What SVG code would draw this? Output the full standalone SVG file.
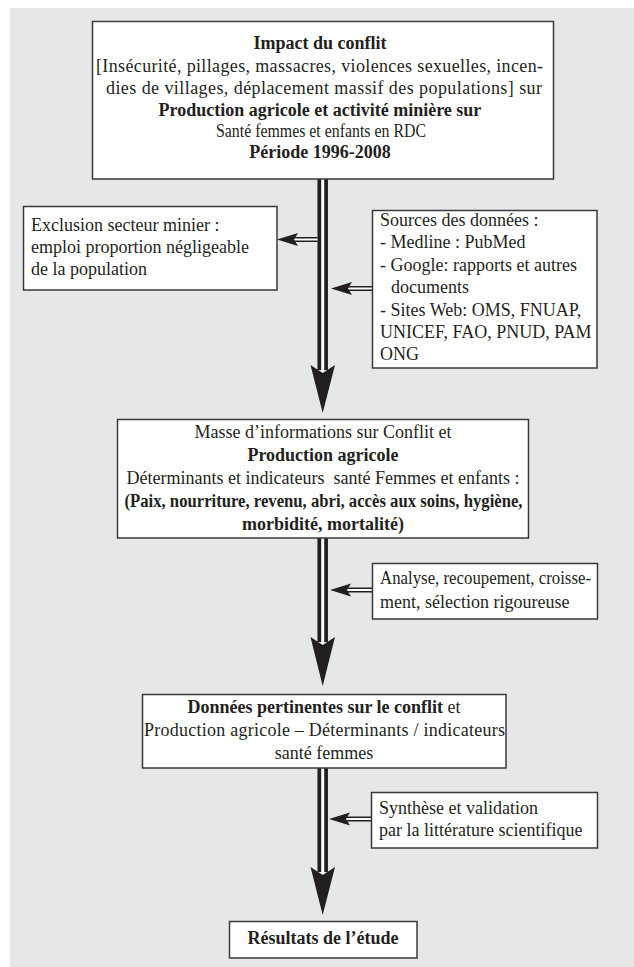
<svg xmlns="http://www.w3.org/2000/svg" width="634" height="967" viewBox="0 0 634 967">
<style>
.bg{fill:#e6e7e9}
.box{fill:#fff;stroke:#3a3a3a;stroke-width:1.5}
text{font-family:"Liberation Serif","Times New Roman",serif;font-size:18px;fill:#231f20}
.c{text-anchor:middle}
.b{font-weight:bold}
.shaftO{stroke:#231f20;stroke-width:10.5;fill:none}
.shaftI{stroke:#fff;stroke-width:3;fill:none}
.sO{stroke:#231f20;stroke-width:5;fill:none}
.sI{stroke:#fff;stroke-width:2;fill:none}
.head{fill:#231f20}
</style>
<rect class="bg" x="10" y="8" width="624" height="959"/>
<g id="connectors">
  <path class="shaftO" d="M322.7,179 V370 M322.7,538 V642 M322.7,768 V872"/>
  <path class="shaftI" d="M322.7,179 V372 M322.7,538 V644 M322.7,768 V874"/>
  <path class="head" d="M310.5,365 L322.7,373 L335,365 L322.7,413 Z"/>
  <path class="head" d="M310.5,637 L322.7,645 L335,637 L322.7,686 Z"/>
  <path class="head" d="M310.5,867 L322.7,875 L335,867 L322.7,915 Z"/>
  <path class="sO" d="M317.5,239.5 H292"/>
  <path class="sI" d="M317.5,239.5 H292"/>
  <path class="head" d="M277,239.5 L298,233 L294,239.5 L298,246 Z"/>
  <path class="sO" d="M372,288.5 H347"/>
  <path class="sI" d="M372,288.5 H347"/>
  <path class="head" d="M331,288.5 L352,282 L348,288.5 L352,295 Z"/>
  <path class="sO" d="M372,590 H346"/>
  <path class="sI" d="M372,590 H346"/>
  <path class="head" d="M330,590 L351,583.5 L347,590 L351,596.5 Z"/>
  <path class="sO" d="M371,819 H345"/>
  <path class="sI" d="M371,819 H345"/>
  <path class="head" d="M329,819 L350,812.5 L346,819 L350,825.5 Z"/>
</g>
<g id="n1">
  <rect class="box" x="92.5" y="21.5" width="461" height="157.5"/>
  <text class="c b" x="320" y="49">Impact du conflit</text>
  <text x="96" y="72" textLength="447" lengthAdjust="spacing">[Insécurité, pillages, massacres, violences sexuelles, incen-</text>
  <text x="106" y="94" textLength="436" lengthAdjust="spacing">dies de villages, déplacement massif des populations] sur</text>
  <text class="c b" x="320" y="116">Production agricole et activité minière sur</text>
  <text x="216" y="137" textLength="210" lengthAdjust="spacingAndGlyphs">Santé femmes et enfants en RDC</text>
  <text class="c b" x="320" y="158">Période 1996-2008</text>
</g>
<g id="n2">
  <rect class="box" x="23.5" y="206.5" width="253.5" height="83.5"/>
  <text x="31" y="231">Exclusion secteur minier :</text>
  <text x="31" y="253">emploi proportion négligeable</text>
  <text x="31" y="275">de la population</text>
</g>
<g id="n3">
  <rect class="box" x="372.5" y="210.5" width="224.5" height="157.5"/>
  <text x="380" y="226">Sources des données :</text>
  <text x="380" y="248">- Medline : PubMed</text>
  <text x="380" y="271">- Google: rapports et autres</text>
  <text x="391" y="293">documents</text>
  <text x="380" y="316">- Sites Web: OMS, FNUAP,</text>
  <text x="380" y="338">UNICEF, FAO, PNUD, PAM</text>
  <text x="380" y="360">ONG</text>
</g>
<g id="n4">
  <rect class="box" x="117.5" y="419.5" width="411" height="118.5"/>
  <text class="c" x="323" y="438">Masse d’informations sur Conflit et</text>
  <text class="c b" x="323" y="461">Production agricole</text>
  <text class="c" x="323" y="484" xml:space="preserve">Déterminants et indicateurs  santé Femmes et enfants :</text>
  <text class="b" x="124.5" y="507" textLength="398" lengthAdjust="spacingAndGlyphs">(Paix, nourriture, revenu, abri, accès aux soins, hygiène,</text>
  <text class="c b" x="323" y="530">morbidité, mortalité)</text>
</g>
<g id="n5">
  <rect class="box" x="372.5" y="563.5" width="225" height="55.5"/>
  <text x="380" y="584" textLength="211" lengthAdjust="spacingAndGlyphs">Analyse, recoupement, croisse-</text>
  <text x="380" y="608">ment, sélection rigoureuse</text>
</g>
<g id="n6">
  <rect class="box" x="142.5" y="694.5" width="363.5" height="73.5"/>
  <text class="c" x="324" y="713"><tspan class="b">Données pertinentes sur le conflit</tspan> et</text>
  <text x="144" y="736" textLength="361" lengthAdjust="spacing">Production agricole – Déterminants / indicateurs</text>
  <text class="c" x="324" y="759">santé femmes</text>
</g>
<g id="n7">
  <rect class="box" x="371.5" y="792.5" width="226" height="55.5"/>
  <text x="379" y="814">Synthèse et validation</text>
  <text x="379" y="836">par la littérature scientifique</text>
</g>
<g id="n8">
  <rect class="box" x="229.5" y="921.5" width="187.5" height="36.5"/>
  <text class="c b" x="323" y="944">Résultats de l’étude</text>
</g>
</svg>
